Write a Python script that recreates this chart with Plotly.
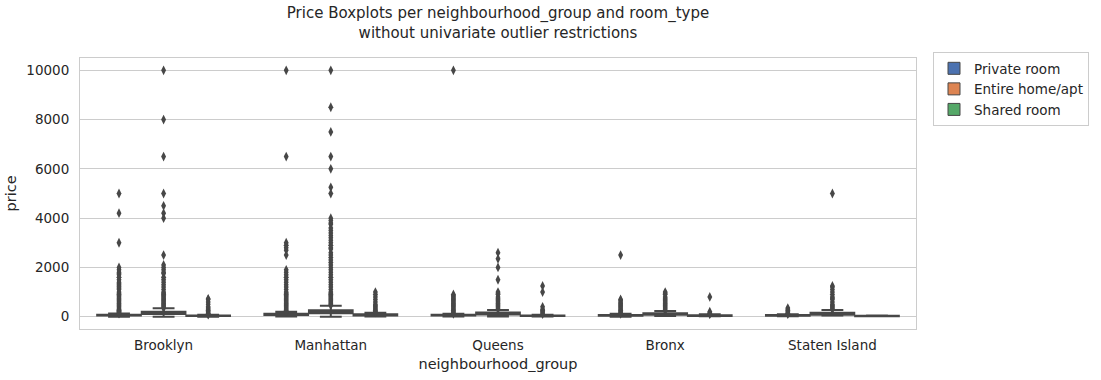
import plotly.graph_objects as go

categories = ["Brooklyn", "Manhattan", "Queens", "Bronx", "Staten Island"]
room_types = ["Private room", "Entire home/apt", "Shared room"]
colors = ["#4C72B0", "#DD8452", "#55A868"]

# box statistics per room type, one value per neighbourhood group
q1 = {
    "Private room":    [50, 68, 47, 40, 40],
    "Entire home/apt": [105, 140, 90, 80, 75],
    "Shared room":     [30, 49, 29, 28, 22],
}
median = {
    "Private room":    [65, 90, 60, 53, 50],
    "Entire home/apt": [145, 191, 120, 100, 100],
    "Shared room":     [36, 69, 37, 40, 30],
}
q3 = {
    "Private room":    [80, 120, 75, 70, 65],
    "Entire home/apt": [199, 263, 165, 140, 157],
    "Shared room":     [50, 95, 50, 55, 36],
}
lower = {
    "Private room":    [0, 10, 10, 0, 20],
    "Entire home/apt": [0, 0, 10, 28, 48],
    "Shared room":     [0, 10, 11, 20, 13],
}
upper = {
    "Private room":    [125, 198, 115, 115, 100],
    "Entire home/apt": [340, 447, 275, 230, 275],
    "Shared room":     [80, 164, 80, 95, 50],
}

# outliers
outliers = {
    ("Brooklyn", "Private room"): [5000, 4200, 3000, 2000, 1900, 1800, 1750, 1700, 1600, 1500, 1400, 1350, 1300,
                                   1250, 1200, 1150, 1100, 1000, 950, 900, 850, 800, 750, 700, 650, 600, 550,
                                   500, 450, 400, 350, 300, 275, 250, 225, 200, 175, 150, 130],
    ("Brooklyn", "Entire home/apt"): [10000, 8000, 6500, 5000, 4500, 4200, 4000, 2500, 2100, 2000, 1900, 1800,
                                      1750, 1600, 1500, 1400, 1300, 1200, 1100, 1000, 950, 900, 850, 800, 750,
                                      700, 650, 600, 550, 500, 450, 400, 350],
    ("Brooklyn", "Shared room"): [725, 700, 600, 500, 400, 350, 300, 250, 200, 150, 120, 100, 85],
    ("Manhattan", "Private room"): [10000, 6500, 3000, 2900, 2800, 2700, 2500, 1900, 1800, 1700, 1600, 1500,
                                    1400, 1300, 1200, 1100, 1000, 950, 900, 850, 800, 750, 700, 650, 600, 550,
                                    500, 450, 400, 350, 300, 250, 200],
    ("Manhattan", "Entire home/apt"): [10000, 8500, 7500, 6500, 6000, 5250, 5000, 4000, 3900, 3800, 3750, 3600,
                                       3500, 3400, 3300, 3200, 3100, 3000, 2900, 2800, 2750, 2600, 2500, 2400,
                                       2300, 2200, 2100, 2000, 1900, 1800, 1700, 1600, 1500, 1400, 1300, 1200,
                                       1100, 1000, 950, 900, 850, 800, 750, 700, 650, 600, 550, 500, 460],
    ("Manhattan", "Shared room"): [1000, 900, 800, 700, 600, 500, 450, 400, 350, 300, 250, 200, 175],
    ("Queens", "Private room"): [10000, 900, 850, 800, 750, 700, 650, 600, 550, 500, 450, 400, 350, 300, 250,
                                 200, 150, 120],
    ("Queens", "Entire home/apt"): [2600, 2350, 2000, 1500, 1000, 950, 900, 800, 750, 700, 650, 600, 550, 500,
                                    450, 400, 350, 300],
    ("Queens", "Shared room"): [1250, 1000, 400, 300, 250, 200, 150, 100],
    ("Bronx", "Private room"): [2500, 700, 670, 600, 550, 500, 450, 400, 350, 300, 250, 200, 150, 120],
    ("Bronx", "Entire home/apt"): [1000, 950, 900, 800, 750, 700, 650, 600, 550, 500, 450, 400, 350, 300, 240],
    ("Bronx", "Shared room"): [800, 200, 150, 120, 100],
    ("Staten Island", "Private room"): [350, 300, 250, 200, 150, 125, 105],
    ("Staten Island", "Entire home/apt"): [5000, 1250, 1200, 1100, 1000, 900, 800, 750, 700, 600, 500, 450,
                                           400, 350, 300],
    ("Staten Island", "Shared room"): [],
}

y_ticks = [0, 2000, 4000, 6000, 8000, 10000]
y_tick_labels = ["0", "2000", "4000", "6000", "8000", "10000"]

edge = "#474747"
font_color = "#262626"
group_width = 0.8
n_hue = len(room_types)
box_w = group_width / n_hue * 0.98

W, H = 1101, 380
ML, MR, MT, MB = 80, 5, 58, 51
plot_right = 916
paper_w = W - ML - MR

fig = go.Figure()

for h, rt in enumerate(room_types):
    offset = (h - (n_hue - 1) / 2) * group_width / n_hue
    xs = [i + offset for i in range(len(categories))]
    fig.add_trace(go.Box(
        x=xs, q1=q1[rt], median=median[rt], q3=q3[rt],
        lowerfence=lower[rt], upperfence=upper[rt],
        width=box_w, fillcolor=colors[h],
        line=dict(color=edge, width=2), whiskerwidth=0.5,
        boxpoints=False, showlegend=False, hoverinfo="skip",
    ))
    ox, oy = [], []
    for i, cat in enumerate(categories):
        vals = outliers[(cat, rt)]
        ox += [i + offset] * len(vals)
        oy += vals
    fig.add_trace(go.Scatter(
        x=ox, y=oy, mode="markers",
        marker=dict(symbol="diamond-tall", size=7, color=edge, line=dict(width=0)),
        showlegend=False, hoverinfo="skip",
    ))
    # legend entry
    fig.add_trace(go.Bar(
        x=[None], y=[None], name=rt,
        marker=dict(color=colors[h], line=dict(color=edge, width=1)),
        showlegend=True,
    ))

fig.update_layout(
    width=W, height=H,
    margin=dict(l=ML, r=MR, t=MT, b=MB),
    paper_bgcolor="white", plot_bgcolor="white",
    font=dict(family="DejaVu Sans", size=13.5, color=font_color),
    title=dict(
        text="Price Boxplots per neighbourhood_group and room_type<br>without univariate outlier restrictions",
        x=(ML + plot_right) / 2 / W, xanchor="center", y=0.952, yanchor="top",
        font=dict(size=15, color=font_color),
    ),
    legend=dict(
        x=(933 - ML) / paper_w, xanchor="left", y=1.022, yanchor="top",
        bordercolor="#cccccc", borderwidth=1, bgcolor="white",
        font=dict(size=13.5, color=font_color), tracegroupgap=0,
    ),
    boxmode="overlay", barmode="overlay",
    showlegend=True,
)
fig.update_xaxes(
    domain=[0, (plot_right - ML) / paper_w],
    range=[-0.5, 4.5], tickmode="array", tickvals=list(range(len(categories))), ticktext=categories,
    showgrid=False, zeroline=False, showline=True, linecolor="#cccccc", linewidth=1, mirror=True,
    ticks="", tickfont=dict(size=13.5), ticklabelstandoff=4,
    title=dict(text="neighbourhood_group", font=dict(size=14.5), standoff=6),
)
fig.update_yaxes(
    range=[-500, 10500], tickmode="array", tickvals=y_ticks, ticktext=y_tick_labels,
    showgrid=True, gridcolor="#cccccc", gridwidth=1, zeroline=False,
    showline=True, linecolor="#cccccc", linewidth=1, mirror=True,
    ticks="", tickfont=dict(size=13.5), ticklabelstandoff=7,
    title=dict(text="price", font=dict(size=14.5), standoff=6),
)

fig.write_html(
    "out.html",
    config={"displayModeBar": False},
    post_script="document.body.style.margin='0';document.body.style.overflow='hidden';",
)
